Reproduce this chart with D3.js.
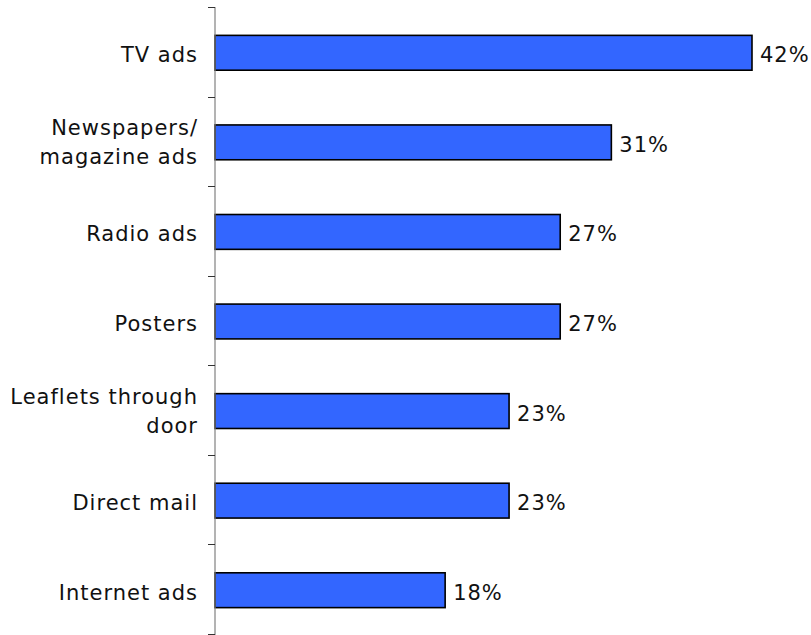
<!DOCTYPE html>
<html>
<head>
<meta charset="utf-8">
<script src="https://cdn.jsdelivr.net/npm/d3@7/dist/d3.min.js"></script>
<style>
  html, body { margin: 0; padding: 0; background: #fff; }
  svg { display: block; }
  text { font-family: "DejaVu Sans", Verdana, sans-serif; font-size: 21px; letter-spacing: 1px; fill: #111; }
</style>
</head>
<body>
<svg id="chart" width="811" height="635"></svg>
<script>
// Media channels and the share of respondents who noticed each one (%)
const categories = [
  ["TV ads"],
  ["Newspapers/", "magazine ads"],
  ["Radio ads"],
  ["Posters"],
  ["Leaflets through", "door"],
  ["Direct mail"],
  ["Internet ads"]
];
const values = [42, 31, 27, 27, 23, 23, 18];
const valueLabels = ["42%", "31%", "27%", "27%", "23%", "23%", "18%"];

const svg = d3.select("#chart");
const axisX = 215;

const y = d3.scaleBand()
  .domain(d3.range(categories.length))
  .range([7, 634])
  .paddingInner(0.6)
  .paddingOuter(0.3);

const x = d3.scaleLinear()
  .domain([0, d3.max(values)])
  .range([axisX, 752]);

const barShift = 1.5;
const step = y.step();

// bars
svg.append("g").selectAll("rect")
  .data(values)
  .join("rect")
  .attr("x", x(0))
  .attr("y", (d, i) => y(i) + barShift)
  .attr("width", d => x(d) - x(0))
  .attr("height", y.bandwidth() - 1)
  .attr("fill", "#3366FF")
  .attr("stroke", "#000")
  .attr("stroke-width", 1.6);

// vertical axis line with ticks at category boundaries
const axis = svg.append("g");
axis.append("line")
  .attr("x1", axisX).attr("x2", axisX)
  .attr("y1", y.range()[0]).attr("y2", y.range()[1] + 1)
  .attr("stroke", "#808080").attr("stroke-width", 1.2);
axis.selectAll("line.tick")
  .data(d3.range(categories.length + 1))
  .join("line")
  .attr("class", "tick")
  .attr("x1", axisX - 7).attr("x2", axisX)
  .attr("y1", i => Math.round(y.range()[0] + i * step) + 0.5)
  .attr("y2", i => Math.round(y.range()[0] + i * step) + 0.5)
  .attr("stroke", "#333").attr("stroke-width", 1);

// category labels
const center = i => y(i) + barShift + y.bandwidth() / 2;
svg.append("g").selectAll("text")
  .data(categories)
  .join("text")
  .attr("text-anchor", "end")
  .each(function(lines, i) {
    const t = d3.select(this);
    const first = lines.length === 1 ? center(i) + 9 : center(i) - 8;
    lines.forEach((ln, k) => {
      t.append("tspan")
        .attr("x", 198)
        .attr("y", first + k * 29)
        .text(ln);
    });
  });

// value labels
svg.append("g").selectAll("text")
  .data(values)
  .join("text")
  .attr("x", d => x(d) + 8)
  .attr("y", (d, i) => center(i) + 9)
  .text((d, i) => valueLabels[i]);
</script>
</body>
</html>
